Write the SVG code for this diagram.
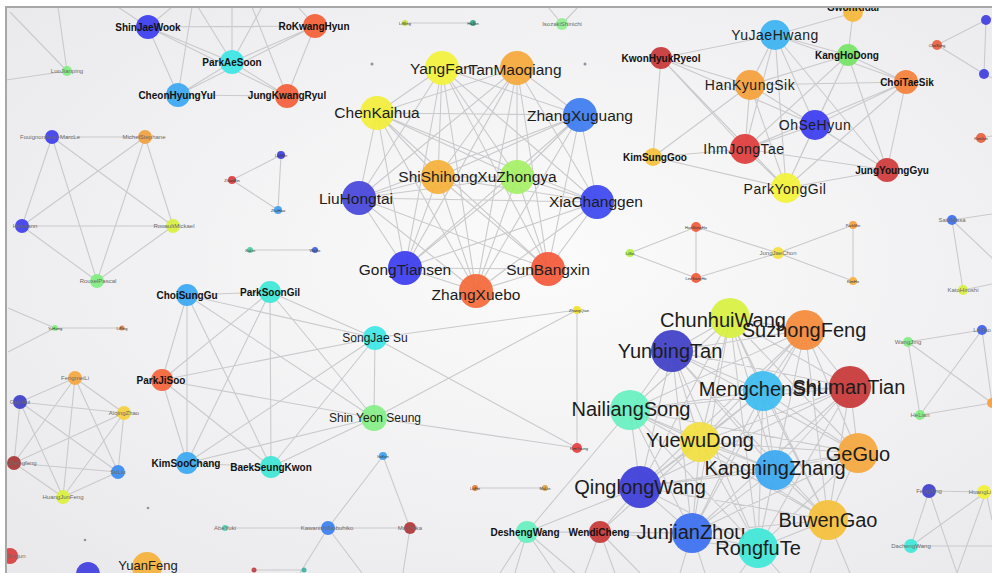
<svg xmlns="http://www.w3.org/2000/svg" width="992" height="573" viewBox="0 0 992 573">
<defs>
<radialGradient id="bg" cx="55%" cy="45%" r="75%">
<stop offset="0" stop-color="#fbfbfb"/>
<stop offset="1" stop-color="#e9e9ec"/>
</radialGradient>
<clipPath id="clip"><rect x="6" y="7" width="986" height="566"/></clipPath>
<style>
.e{fill:none;stroke:#cacacc;stroke-width:1.1}
circle{opacity:.93}
text{font-family:"Liberation Sans",Arial,sans-serif;text-anchor:middle;dominant-baseline:central;fill:#1c1c1c}
.L{font-size:20px}
.M{font-size:15.5px}
.K{font-size:14px;letter-spacing:.5px}
.B{font-size:10px;font-weight:bold;fill:#111}
.S{font-size:12px}
.T{font-size:6px;fill:#6a6a6a}
.t{font-size:4px;fill:#333}
</style>
</defs>
<rect width="992" height="573" fill="#ffffff"/>
<rect x="6" y="7" width="986" height="566" fill="url(#bg)"/>
<g clip-path="url(#clip)">
<g id="connectors">
<path class="e" d="M148 27L315 26M148 27L232 62M148 27L178 95M148 27L287 96M315 26L232 62M315 26L178 95M315 26L287 96M232 62L178 95M232 62L287 96M178 95L287 96M148 27L118 7M148 27L172 7M232 62L198 7M232 62L262 7M178 95L192 7M287 96L252 7M315 26L298 7M232 62L232 7"/>
<path class="e" d="M67 71L10 12M67 71L58 7M67 71L6 80"/>
<path class="e" d="M52 137L145 137M52 137L22 226M52 137L173 226M52 137L97 281M145 137L22 226M145 137L173 226M145 137L97 281M22 226L173 226M22 226L97 281M173 226L97 281"/>
<path class="e" d="M232 180L281 155M232 180L278 210M281 155L278 210M250 250L315 250M405 23L473 23M562 24L548 7M562 24L578 7"/>
<path class="e" d="M442 68L517 68M442 68L377 113M442 68L580 115M442 68L438 177M442 68L517 177M442 68L359 198M442 68L597 202M442 68L405 268M442 68L548 269M442 68L476 291M517 68L377 113M517 68L580 115M517 68L438 177M517 68L517 177M517 68L359 198M517 68L597 202M517 68L405 268M517 68L548 269M517 68L476 291M377 113L580 115M377 113L438 177M377 113L517 177M377 113L359 198M377 113L597 202M377 113L405 268M377 113L548 269M377 113L476 291M580 115L438 177M580 115L517 177M580 115L359 198M580 115L597 202M580 115L405 268M580 115L548 269M580 115L476 291M438 177L517 177M438 177L359 198M438 177L597 202M438 177L405 268M438 177L548 269M438 177L476 291M517 177L359 198M517 177L597 202M517 177L405 268M517 177L548 269M517 177L476 291M359 198L597 202M359 198L405 268M359 198L548 269M359 198L476 291M597 202L405 268M597 202L548 269M597 202L476 291M405 268L548 269M405 268L476 291M548 269L476 291"/>
<path class="e" d="M661 58L775 35M661 58L750 85M661 58L815 125M661 58L653 157M661 58L786 188M661 58L745 149M775 35L848 55M775 35L750 85M775 35L815 125M775 35L745 149M775 35L786 188M775 35L906 82M775 35L887 170M775 35L853 13M848 55L750 85M848 55L815 125M848 55L906 82M848 55L745 149M848 55L786 188M848 55L887 170M848 55L853 13M750 85L815 125M750 85L745 149M750 85L786 188M750 85L906 82M750 85L653 157M750 85L887 170M906 82L815 125M906 82L887 170M906 82L786 188M906 82L745 149M815 125L745 149M815 125L786 188M815 125L887 170M745 149L786 188M745 149L887 170M745 149L653 157M786 188L887 170M786 188L653 157"/>
<path class="e" d="M937 45L986 20M937 45L984 74M986 20L984 74M986 20L992 18M984 74L992 78M981 138L992 136M952 220L992 214M952 220L963 290M952 220L992 258M963 290L992 284"/>
<path class="e" d="M630 253L696 227M630 253L696 278M696 227L696 278M696 227L778 253M696 278L778 253M778 253L853 225M778 253L853 281M853 225L853 281"/>
<path class="e" d="M908 342L982 330M908 342L920 415M908 342L992 403M982 330L920 415M982 330L992 403M920 415L992 403"/>
<path class="e" d="M929 491L986 492M929 491L911 546M929 491L957 573M986 492L911 546M986 492L957 573M911 546L992 546M986 492L992 520"/>
<path class="e" d="M187 295L270 292M187 295L162 380M187 295L187 463M187 295L271 467M187 295L375 338M187 295L374 418M270 292L162 380M270 292L187 463M270 292L271 467M270 292L375 338M270 292L374 418M162 380L187 463M162 380L271 467M162 380L375 338M162 380L374 418M187 463L271 467M187 463L375 338M187 463L374 418M271 467L375 338M271 467L374 418M375 338L374 418M375 338L577 310M375 338L577 448M374 418L577 310M374 418L577 448M577 310L577 448"/>
<path class="e" d="M75 378L20 402M75 378L124 413M75 378L14 463M75 378L118 472M75 378L63 497M20 402L124 413M20 402L14 463M20 402L118 472M20 402L63 497M124 413L14 463M124 413L118 472M124 413L63 497M14 463L118 472M14 463L63 497M118 472L63 497M55 328L122 328M55 328L8 308M55 328L8 352"/>
<path class="e" d="M383 456L328 528M383 456L410 528M225 528L328 528M328 528L410 528M328 528L300 573M328 528L362 573M410 528L403 573M475 488L545 488M254 570L304 570"/>
<path class="e" d="M730 318L805 330M730 318L672 351M730 318L763 391M730 318L850 387M730 318L630 410M730 318L700 442M730 318L858 453M730 318L775 470M730 318L640 487M730 318L692 533M730 318L828 520M730 318L758 548M805 330L672 351M805 330L763 391M805 330L850 387M805 330L630 410M805 330L700 442M805 330L858 453M805 330L775 470M805 330L640 487M805 330L692 533M805 330L828 520M805 330L758 548M672 351L763 391M672 351L850 387M672 351L630 410M672 351L700 442M672 351L858 453M672 351L775 470M672 351L640 487M672 351L692 533M672 351L828 520M672 351L758 548M763 391L850 387M763 391L630 410M763 391L700 442M763 391L858 453M763 391L775 470M763 391L640 487M763 391L692 533M763 391L828 520M763 391L758 548M850 387L630 410M850 387L700 442M850 387L858 453M850 387L775 470M850 387L640 487M850 387L692 533M850 387L828 520M850 387L758 548M630 410L700 442M630 410L858 453M630 410L775 470M630 410L640 487M630 410L692 533M630 410L828 520M630 410L758 548M700 442L858 453M700 442L775 470M700 442L640 487M700 442L692 533M700 442L828 520M700 442L758 548M858 453L775 470M858 453L640 487M858 453L692 533M858 453L828 520M858 453L758 548M775 470L640 487M775 470L692 533M775 470L828 520M775 470L758 548M640 487L692 533M640 487L828 520M640 487L758 548M692 533L828 520M692 533L758 548M828 520L758 548"/>
<path class="e" d="M527 532L600 532M527 532L640 487M527 532L692 533M527 532L630 410M600 532L640 487M600 532L692 533M600 532L758 548M600 532L700 442M527 532L500 573M527 532L515 573M527 532L555 573M527 532L575 573M600 532L585 573M600 532L615 573M600 532L640 573M692 533L680 573M692 533L705 573M758 548L740 573M758 548L780 573M828 520L810 573M828 520L850 573"/>
</g>

<g id="ShinJaeWook"><circle cx="148" cy="27" r="12" fill="#3c3cf0"/><text class="B" x="148" y="27">ShinJaeWook</text></g>
<g id="RoKwangHyun"><circle cx="315" cy="26" r="12" fill="#f46038"/><text class="B" x="314" y="26">RoKwangHyun</text></g>
<g id="ParkAeSoon"><circle cx="232" cy="62" r="12" fill="#3ee6e6"/><text class="B" x="232" y="62">ParkAeSoon</text></g>
<g id="CheonHyungYul"><circle cx="178" cy="95" r="12" fill="#3ca8f2"/><text class="B" x="177" y="95">CheonHyungYul</text></g>
<g id="JungKwangRyul"><circle cx="287" cy="96" r="12" fill="#f46038"/><text class="B" x="287" y="95">JungKwangRyul</text></g>

<g id="LuoJianping"><circle cx="67" cy="71" r="5" fill="#7ef07e"/><text class="T" x="67" y="71">LuoJianping</text></g>
<g id="FouignonJeanMarc"><circle cx="52" cy="137" r="7" fill="#4040ee"/><text class="T" x="50" y="137">FouignonJean-MarcLe</text></g>
<g id="MichelStephane"><circle cx="145" cy="137" r="7" fill="#f0a040"/><text class="T" x="144" y="137">MichelStephane</text></g>
<g id="Hermann"><circle cx="22" cy="226" r="7" fill="#4040ee"/><text class="T" x="25" y="226">Hermann</text></g>
<g id="RouaultMickael"><circle cx="173" cy="226" r="7" fill="#d8f040"/><text class="T" x="174" y="226">RouaultMickael</text></g>
<g id="RouxelPascal"><circle cx="97" cy="281" r="7" fill="#80ee80"/><text class="T" x="98" y="281">RouxelPascal</text></g>

<g id="tri1"><circle cx="232" cy="180" r="4" fill="#d84040"/><text class="t" x="232" y="180">ZhaoMin</text></g>
<g id="tri2"><circle cx="281" cy="155" r="4" fill="#4040e0"/><text class="t" x="281" y="155">LiuWei</text></g>
<g id="tri3"><circle cx="278" cy="210" r="4" fill="#40a0f0"/><text class="t" x="278" y="210">ZhuHao</text></g>
<g id="pair1"><circle cx="250" cy="250" r="3" fill="#50d0a0"/><text class="t" x="250" y="250">XuLin</text></g>
<g id="pair2"><circle cx="315" cy="250" r="3" fill="#4060e0"/><text class="t" x="315" y="250">WuJie</text></g>
<g id="top1"><circle cx="405" cy="23" r="3" fill="#c0e040"/><text class="t" x="405" y="23">LiMing</text></g>
<g id="top2"><circle cx="473" cy="23" r="3" fill="#40a080"/><text class="t" x="473" y="23">HuJun</text></g>
<g id="IsozakiShinichi"><circle cx="562" cy="24" r="6" fill="#90f090"/><text class="T" x="562" y="24">IsozakiShinichi</text></g>
<g id="dot1"><circle cx="372" cy="64" r="1.5" fill="#8a8a9a"/></g>
<g id="dot2"><circle cx="585" cy="64" r="1.5" fill="#8a8a9a"/></g>

<g id="YangFan"><circle cx="442" cy="68" r="17" fill="#f2f23a"/><text class="M" x="441" y="68">YangFan</text></g>
<g id="TanMaoqiang"><circle cx="517" cy="68" r="17" fill="#f5a83a"/><text class="M" x="515" y="69">TanMaoqiang</text></g>
<g id="ChenKaihua"><circle cx="377" cy="113" r="17" fill="#f2ee3a"/><text class="M" x="377" y="112">ChenKaihua</text></g>
<g id="ZhangXuguang"><circle cx="580" cy="115" r="17" fill="#3c7cf0"/><text class="M" x="580" y="115">ZhangXuguang</text></g>
<g id="ShiShihong"><circle cx="438" cy="177" r="17" fill="#f5b03a"/><text class="M" x="438" y="176">ShiShihong</text></g>
<g id="XuZhongya"><circle cx="517" cy="177" r="17" fill="#a6f064"/><text class="M" x="517" y="176">XuZhongya</text></g>
<g id="LiuHongtai"><circle cx="359" cy="198" r="17" fill="#4646dc"/><text class="M" x="356" y="198">LiuHongtai</text></g>
<g id="XiaChanggen"><circle cx="597" cy="202" r="17" fill="#3c48f0"/><text class="M" x="596" y="201">XiaChanggen</text></g>
<g id="GongTiansen"><circle cx="405" cy="268" r="17" fill="#3c3cf0"/><text class="M" x="405" y="269">GongTiansen</text></g>
<g id="SunBangxin"><circle cx="548" cy="269" r="17" fill="#f45a3a"/><text class="M" x="548" y="269">SunBangxin</text></g>
<g id="ZhangXuebo"><circle cx="476" cy="291" r="17" fill="#f46a3a"/><text class="M" x="476" y="294">ZhangXuebo</text></g>

<g id="GwonKidal"><circle cx="853" cy="12" r="10" fill="#f5b83a"/><text class="B" x="853" y="7">GwonKidal</text></g>
<g id="KwonHyukRyeol"><circle cx="661" cy="58" r="11" fill="#c83838"/><text class="B" x="661" y="58">KwonHyukRyeol</text></g>
<g id="YuJaeHwang"><circle cx="775" cy="35" r="15" fill="#3cb4f2"/><text class="K" x="775" y="35">YuJaeHwang</text></g>
<g id="KangHoDong"><circle cx="848" cy="55" r="11" fill="#76e466"/><text class="B" x="847" y="55">KangHoDong</text></g>
<g id="HanKyungSik"><circle cx="750" cy="85" r="15" fill="#f5a03a"/><text class="K" x="750" y="85">HanKyungSik</text></g>
<g id="ChoiTaeSik"><circle cx="906" cy="82" r="12" fill="#f5803a"/><text class="B" x="907" y="82">ChoiTaeSik</text></g>
<g id="OhSeHyun"><circle cx="815" cy="125" r="15" fill="#3c3cf0"/><text class="K" x="815" y="125">OhSeHyun</text></g>
<g id="IhmJongTae"><circle cx="745" cy="149" r="15" fill="#e03c3c"/><text class="K" x="744" y="149">IhmJongTae</text></g>
<g id="JungYoungGyu"><circle cx="887" cy="170" r="12" fill="#d03a3a"/><text class="B" x="892" y="170">JungYoungGyu</text></g>
<g id="ParkYongGil"><circle cx="786" cy="188" r="15" fill="#f2f23a"/><text class="K" x="785" y="189">ParkYongGil</text></g>
<g id="KimSungGoo"><circle cx="653" cy="157" r="9" fill="#f5c03a"/><text class="B" x="655" y="157">KimSungGoo</text></g>

<g id="rb1"><circle cx="986" cy="20" r="5" fill="#4040e0"/></g>
<g id="rb2"><circle cx="984" cy="74" r="5" fill="#4040e0"/></g>
<g id="ro1"><circle cx="937" cy="45" r="5" fill="#e86040"/><text class="t" x="937" y="45">ChoSung</text></g>
<g id="ro2"><circle cx="981" cy="138" r="5" fill="#e86040"/><text class="t" x="981" y="138">KimJun</text></g>
<g id="rb3"><circle cx="952" cy="220" r="5" fill="#3c70f0"/><text class="T" x="952" y="220">SatoMasa</text></g>
<g id="ry1"><circle cx="963" cy="290" r="5" fill="#d8f040"/><text class="T" x="963" y="290">KatoHiroshi</text></g>

<g id="mg"><circle cx="630" cy="253" r="4" fill="#b0f040"/><text class="t" x="630" y="253">LiXin</text></g>
<g id="mr1"><circle cx="696" cy="227" r="5" fill="#f05a3a"/><text class="t" x="696" y="227">HanSungHo</text></g>
<g id="mr2"><circle cx="696" cy="278" r="5" fill="#f05a3a"/><text class="t" x="696" y="278">LeeSangHo</text></g>
<g id="JungJaeChon"><circle cx="778" cy="253" r="6" fill="#f2e040"/><text class="T" x="778" y="253">JungJaeChon</text></g>
<g id="mo1"><circle cx="853" cy="225" r="4" fill="#f5a040"/><text class="t" x="853" y="225">ParkMin</text></g>
<g id="mo2"><circle cx="853" cy="281" r="4" fill="#f5b040"/><text class="t" x="853" y="281">KimHo</text></g>

<g id="qg1"><circle cx="908" cy="342" r="5" fill="#80ee80"/><text class="T" x="908" y="342">WangJing</text></g>
<g id="qb"><circle cx="982" cy="330" r="5" fill="#4060f0"/><text class="T" x="982" y="330">LinTao</text></g>
<g id="qg2"><circle cx="920" cy="415" r="5" fill="#80ee80"/><text class="T" x="920" y="415">HeLian</text></g>
<g id="qo"><circle cx="992" cy="403" r="5" fill="#f5a040"/></g>

<g id="FengXing"><circle cx="929" cy="491" r="7" fill="#4040d0"/><text class="T" x="929" y="491">FengXing</text></g>
<g id="HuangLi"><circle cx="984" cy="492" r="7" fill="#f2f03a"/><text class="T" x="980" y="492">HuangLi</text></g>
<g id="DachengWang"><circle cx="911" cy="546" r="7" fill="#40e8d8"/><text class="T" x="911" y="546">DachengWang</text></g>

<g id="ChoiSungGu"><circle cx="187" cy="295" r="11" fill="#3ca8f2"/><text class="B" x="187" y="295">ChoiSungGu</text></g>
<g id="ParkSoonGil"><circle cx="270" cy="292" r="11" fill="#3ee6d6"/><text class="B" x="270" y="292">ParkSoonGil</text></g>
<g id="ParkJiSoo"><circle cx="162" cy="380" r="11" fill="#f4643a"/><text class="B" x="161" y="380">ParkJiSoo</text></g>
<g id="KimSooChang"><circle cx="187" cy="463" r="11" fill="#3ca8f2"/><text class="B" x="186" y="463">KimSooChang</text></g>
<g id="BaekSeungKwon"><circle cx="271" cy="467" r="11" fill="#3ee6d6"/><text class="B" x="271" y="467">BaekSeungKwon</text></g>
<g id="SongJaeSu"><circle cx="375" cy="338" r="12" fill="#3ee6e6"/><text class="S" x="375" y="338">SongJae Su</text></g>
<g id="ShinYeonSeung"><circle cx="374" cy="418" r="13" fill="#84ee84"/><text class="S" x="375" y="418">Shin Yeon Seung</text></g>
<g id="sy"><circle cx="577" cy="310" r="4" fill="#f0e030"/><text class="t" x="579" y="310">ZhangQian</text></g>
<g id="sr"><circle cx="577" cy="448" r="5" fill="#e84040"/><text class="t" x="579" y="448">KimYoung</text></g>

<g id="slb"><circle cx="383" cy="456" r="4" fill="#40a0f0"/><text class="t" x="383" y="456">ItoKen</text></g>
<g id="KawanishiNobuhiko"><circle cx="328" cy="528" r="7" fill="#3c80f0"/><text class="T" x="327" y="528">KawanishiNobuhiko</text></g>
<g id="sdr"><circle cx="410" cy="528" r="6" fill="#b03838"/><text class="T" x="410" y="528">MoriTaka</text></g>
<g id="sc"><circle cx="225" cy="528" r="3" fill="#50d0b0"/><text class="T" x="225" y="528">AbeYuki</text></g>
<g id="po1"><circle cx="475" cy="488" r="3" fill="#e08040"/><text class="t" x="475" y="488">LuFei</text></g>
<g id="po2"><circle cx="545" cy="488" r="3" fill="#e0a040"/><text class="t" x="545" y="488">MaLin</text></g>

<g id="FengmeiLi"><circle cx="75" cy="378" r="7" fill="#f5a840"/><text class="T" x="75" y="378">FengmeiLi</text></g>
<g id="wbv"><circle cx="20" cy="402" r="7" fill="#4040c8"/><text class="T" x="20" y="402">GuoHui</text></g>
<g id="AiqingZhao"><circle cx="124" cy="413" r="7" fill="#f5d040"/><text class="T" x="124" y="413">AiqingZhao</text></g>
<g id="Chengfeng"><circle cx="14" cy="463" r="7" fill="#a83838"/><text class="T" x="22" y="463">Chengfeng</text></g>
<g id="SuLiu"><circle cx="118" cy="472" r="7" fill="#3c8cf0"/><text class="T" x="118" y="472">SuLiu</text></g>
<g id="HuangJunFeng"><circle cx="63" cy="497" r="7" fill="#dcf040"/><text class="T" x="63" y="497">HuangJunFeng</text></g>
<g id="wg"><circle cx="55" cy="328" r="3" fill="#80f080"/><text class="t" x="55" y="328">YuHong</text></g>
<g id="wo"><circle cx="122" cy="328" r="2.5" fill="#e08040"/><text class="t" x="122" y="328">LiPing</text></g>
<g id="Jingjun"><circle cx="10" cy="556" r="8" fill="#d84040"/><text class="T" x="16" y="556">Jingjun</text></g>
<g id="bbl"><circle cx="88" cy="574" r="12" fill="#4040e0"/></g>
<g id="YuanFeng"><circle cx="147" cy="567" r="15" fill="#f5b03a"/><text style="font-size:13px" x="148" y="565">YuanFeng</text></g>
<g id="bp1"><circle cx="254" cy="570" r="2.5" fill="#c04040"/></g>
<g id="bp2"><circle cx="304" cy="570" r="2.5" fill="#40b0a0"/></g>
<g id="dot3"><circle cx="148" cy="508" r="1.3" fill="#8a8a9a"/></g>
<g id="dot4"><circle cx="85" cy="540" r="1.3" fill="#8a8a9a"/></g>

<g id="ChunhuiWang"><circle cx="730" cy="318" r="20" fill="#d8f040"/><text class="L" x="723" y="320">ChunhuiWang</text></g>
<g id="SuzhongFeng"><circle cx="805" cy="330" r="20" fill="#f58a3a"/><text class="L" x="804" y="330">SuzhongFeng</text></g>
<g id="YunbingTan"><circle cx="672" cy="351" r="21" fill="#4040c8"/><text class="L" x="670" y="351">YunbingTan</text></g>
<g id="MengchenShi"><circle cx="763" cy="391" r="20" fill="#3cbcf0"/><text class="L" x="760" y="389">MengchenShi</text></g>
<g id="ShumanTian"><circle cx="850" cy="387" r="21" fill="#c83838"/><text class="L" x="849" y="387">ShumanTian</text></g>
<g id="NailiangSong"><circle cx="630" cy="410" r="20" fill="#66f0c0"/><text class="L" x="631" y="409">NailiangSong</text></g>
<g id="YuewuDong"><circle cx="700" cy="442" r="20" fill="#f2e040"/><text class="L" x="700" y="440">YuewuDong</text></g>
<g id="GeGuo"><circle cx="858" cy="453" r="20" fill="#f5a840"/><text class="L" x="858" y="454">GeGuo</text></g>
<g id="KangningZhang"><circle cx="775" cy="470" r="20" fill="#3ca8f2"/><text class="L" x="775" y="468">KangningZhang</text></g>
<g id="QinglongWang"><circle cx="640" cy="487" r="21" fill="#3c3cd8"/><text class="L" x="640" y="487">QinglongWang</text></g>
<g id="JunjianZhou"><circle cx="692" cy="533" r="20" fill="#3c70f0"/><text class="L" x="691" y="532">JunjianZhou</text></g>
<g id="BuwenGao"><circle cx="828" cy="520" r="20" fill="#f5c03a"/><text class="L" x="828" y="520">BuwenGao</text></g>
<g id="RongfuTe"><circle cx="758" cy="548" r="20" fill="#40e8d8"/><text class="L" x="758" y="548">RongfuTe</text></g>
<g id="DeshengWang"><circle cx="527" cy="532" r="11" fill="#66f0c0"/><text class="B" x="525" y="532">DeshengWang</text></g>
<g id="WendiCheng"><circle cx="600" cy="532" r="11" fill="#c83838"/><text class="B" x="599" y="532">WendiCheng</text></g>
</g>
<path d="M6 573V7H992" fill="none" stroke="#a8a8a8" stroke-width="2"/>
</svg>
